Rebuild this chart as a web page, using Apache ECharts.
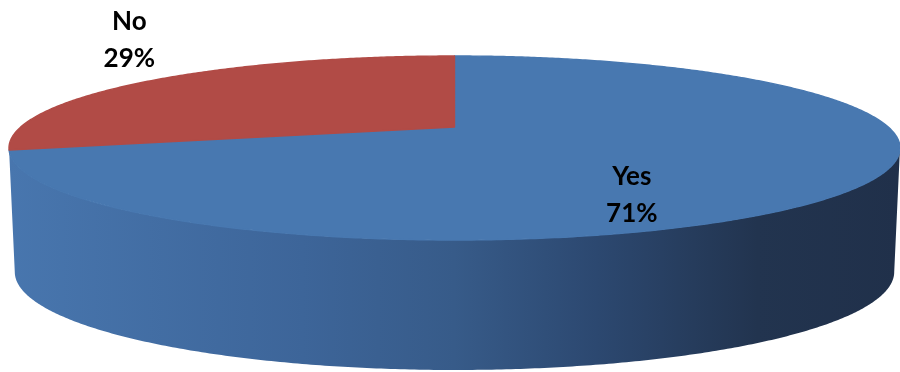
<!DOCTYPE html>
<html>
<head>
<meta charset="utf-8">
<title>Yes / No</title>
<script src="https://cdn.jsdelivr.net/npm/echarts@6/dist/echarts.min.js"></script>
<style>
  html, body { margin: 0; padding: 0; background: #ffffff; }
  #chart { width: 900px; height: 372px; }
</style>
</head>
<body>
<div id="chart"></div>
<script>
// Answers and their shares
const categories = ['Yes', 'No'];
const values = [71, 29];

// Slice colours (top face) and label anchors in the pie's unit space
const sliceColors = ['#4878b0', '#b14b46'];
const labelAnchors = [[0.398, 0.51], [-0.73, -1.17]];

// Tilted-disc geometry, in units of the top ellipse's half-axes
const DEPTH = 1.348;       // thickness of the pie wall
const BOTTOM_SX = 0.987;   // bottom rim is slightly narrower ...
const BOTTOM_SY = 1.065;   // ... and slightly deeper than the top rim
const CENTRE_SHIFT = -0.228; // perspective: disc centre sits above the ellipse centre

const total = values.reduce((a, b) => a + b, 0);
const starts = [];
let acc = 0;
values.forEach(v => { starts.push(acc / total * 360); acc += v; });
const ends = values.map((v, i) => starts[i] + v / total * 360);

// Perspective map of the unit disc (angle clockwise from 12 o'clock) onto the ellipse
const t = Math.atanh(CENTRE_SHIFT);
const ch = Math.cosh(t), sh = Math.sinh(t);
function project(r, deg) {
  const a = deg * Math.PI / 180;
  const X = r * Math.sin(a), Y = -r * Math.cos(a);
  const d = sh * Y + ch;
  return [X / d, (ch * Y + sh) / d];
}
// Angles where the rim reaches its left / right extremes (wall silhouette)
const edgeDeg = Math.acos(CENTRE_SHIFT) * 180 / Math.PI; // about 103 deg
const frontFrom = edgeDeg, frontTo = 360 - edgeDeg;

function arc(fromDeg, toDeg) {
  const pts = [];
  const n = Math.max(2, Math.ceil(Math.abs(toDeg - fromDeg) / 0.5));
  for (let k = 0; k <= n; k++) pts.push(project(1, fromDeg + (toDeg - fromDeg) * k / n));
  return pts;
}

const chart = echarts.init(document.getElementById('chart'), null, { renderer: 'canvas' });

const seriesData = values.map((v, i) => ({ name: categories[i], value: [i, v] }));

function wallItem(params, api) {
  const i = params.dataIndex;
  const from = Math.max(starts[i], frontFrom);
  const to = Math.min(ends[i], frontTo);
  if (to <= from) return null;
  const top = arc(from, to);
  const bottom = top.map(p => [p[0] * BOTTOM_SX, p[1] * BOTTOM_SY + DEPTH]).reverse();
  const points = top.concat(bottom).map(p => api.coord(p));
  const x0 = api.coord([-1, 0])[0], x1 = api.coord([1, 0])[0];
  const fill = new echarts.graphic.LinearGradient(x0, 0, x1, 0, [
    { offset: 0.00, color: '#4876ae' },
    { offset: 0.33, color: '#3d6599' },
    { offset: 0.50, color: '#375b89' },
    { offset: 0.66, color: '#2c4870' },
    { offset: 0.84, color: '#22344f' },
    { offset: 1.00, color: '#20304a' }
  ], true);
  return { type: 'polygon', shape: { points }, style: { fill } };
}

function topItem(params, api) {
  const i = params.dataIndex;
  const pts = [project(0, 0)].concat(arc(starts[i], ends[i])).map(p => api.coord(p));
  const pct = Math.round(values[i] / total * 100) + '%';
  const lp = api.coord(labelAnchors[i]);
  return {
    type: 'group',
    children: [
      { type: 'polygon', shape: { points: pts }, style: { fill: sliceColors[i], stroke: sliceColors[i], lineWidth: 1.4, lineJoin: 'round' } },
      {
        type: 'text', z2: 10,
        x: lp[0], y: lp[1],
        style: {
          text: categories[i] + '\n' + pct,
          align: 'center', verticalAlign: 'middle',
          font: 'bold 26px Lato, "Open Sans", sans-serif',
          lineHeight: 37, fill: '#000000'
        }
      }
    ]
  };
}

chart.setOption({
  animation: false,
  backgroundColor: '#ffffff',
  grid: { left: 9, top: 56, width: 900, height: 314, containLabel: false },
  xAxis: { type: 'value', min: -1, max: 1, show: false },
  yAxis: { type: 'value', min: -1, max: DEPTH + BOTTOM_SY, inverse: true, show: false },
  series: [
    { type: 'custom', name: 'wall', z: 1, renderItem: wallItem, data: seriesData, silent: true },
    { type: 'custom', name: 'top', z: 2, renderItem: topItem, data: seriesData, silent: true }
  ]
});
</script>
</body>
</html>
